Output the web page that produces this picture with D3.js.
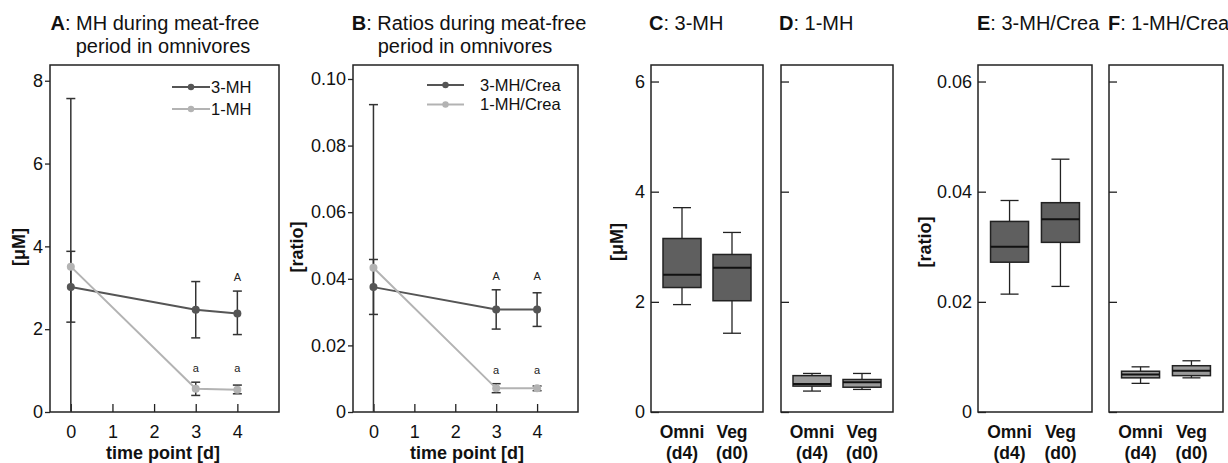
<!DOCTYPE html>
<html>
<head>
<meta charset="utf-8">
<script src="https://cdn.jsdelivr.net/npm/d3@7"></script>
<style>
  body { margin: 0; background: #fff; }
  svg { display: block; font-family: "Liberation Sans", Arial, sans-serif; }
</style>
</head>
<body>
<div id="chart"></div>
<script>
// time course (panels A, B)
const timePoints = [0, 3, 4]
const mh3Mean = [3.02, 2.47, 2.38]
const mh3Lo = [2.17, 1.79, 1.87]
const mh3Hi = [3.88, 3.15, 2.92]
const mh1Mean = [3.51, 0.56, 0.54]
const mh1Lo = [-0.55, 0.40, 0.44]
const mh1Hi = [7.57, 0.72, 0.65]
const mh3CreaMean = [0.0375, 0.0308, 0.0308]
const mh3CreaLo = [0.0293, 0.0249, 0.0257]
const mh3CreaHi = [0.0458, 0.0367, 0.0358]
const mh1CreaMean = [0.0433, 0.0071, 0.0071]
const mh1CreaLo = [-0.0057, 0.0058, 0.0064]
const mh1CreaHi = [0.0923, 0.0085, 0.0078]
const lettersA3 = ['', '', 'A']
const lettersA1 = ['', 'a', 'a']
const lettersB3 = ['', 'A', 'A']
const lettersB1 = ['', 'a', 'a']

// box plots (panels C-F): [low whisker, Q1, median, Q3, high whisker]
const groups = ['Omni|(d4)', 'Veg|(d0)']
const c3mhOmni = [1.95, 2.26, 2.49, 3.15, 3.71]
const c3mhVeg = [1.43, 2.02, 2.62, 2.86, 3.26]
const d1mhOmni = [0.38, 0.47, 0.51, 0.66, 0.70]
const d1mhVeg = [0.41, 0.45, 0.54, 0.59, 0.70]
const e3mhCreaOmni = [0.0214, 0.0272, 0.0300, 0.0346, 0.0384]
const e3mhCreaVeg = [0.0228, 0.0308, 0.0350, 0.0380, 0.0459]
const f1mhCreaOmni = [0.0052, 0.0062, 0.0068, 0.0074, 0.0082]
const f1mhCreaVeg = [0.0062, 0.0066, 0.0075, 0.0084, 0.0093]

const ticksMH = [0, 2, 4, 6, 8]
const ticksRatio = [0, 0.02, 0.04, 0.06, 0.08, 0.10]
const ticksBoxMH = [0, 2, 4, 6]
const ticksBoxRatio = [0, 0.02, 0.04, 0.06]
const xTicks = [0, 1, 2, 3, 4]

const width = 1228, height = 463
const plotTop = 65, plotBottom = 412
const dark = '#555', light = '#b3b3b3', ink = '#222'

const svg = d3.select('#chart').append('svg')
    .attr('width', width)
    .attr('height', height)

const fmtRatio = d => d === 0 ? '0' : d3.format('.2f')(d)

const title = (lines) => {
    lines.forEach(l => {
        const t = svg.append('text')
            .attr('x', l.x)
            .attr('y', l.y)
            .attr('text-anchor', l.anchor || 'middle')
            .attr('font-size', 20)
            .attr('fill', '#111')
        if (l.bold) t.append('tspan').attr('font-weight', 'bold').text(l.bold)
        t.append('tspan').text(l.text)
    })
}

const yTitle = (x, y, txt) => {
    svg.append('text')
        .attr('transform', `translate(${x},${y}) rotate(-90)`)
        .attr('text-anchor', 'middle')
        .attr('dy', '0.35em')
        .attr('font-size', 18)
        .attr('font-weight', 'bold')
        .attr('fill', '#111')
        .text(txt)
}

const frame = (x0, x1) => {
    svg.append('rect')
        .attr('x', x0).attr('y', plotTop)
        .attr('width', x1 - x0).attr('height', plotBottom - plotTop)
        .attr('fill', 'none')
        .attr('stroke', ink)
        .attr('stroke-width', 1.5)
}

const styleAxis = (g, size) => {
    g.select('.domain').remove()
    g.selectAll('line').attr('stroke', ink).attr('stroke-width', 1.3)
    g.selectAll('text').attr('font-size', size).attr('fill', '#111')
        .attr('font-family', '"Liberation Sans", Arial, sans-serif')
}

// ---------- line panels ----------
const linePanel = (x0, x1, yMax, yTicks, yFmt, series, legend) => {
    const x = d3.scaleLinear().domain([-0.5, 5]).range([x0, x1])
    const y = d3.scaleLinear().domain([0, yMax]).range([plotBottom, plotTop])

    svg.append('g')
        .attr('transform', `translate(${x0},0)`)
        .call(d3.axisLeft(y).tickValues(yTicks).tickFormat(yFmt).tickSize(5).tickPadding(2))
        .call(g => styleAxis(g, 18))

    svg.append('g')
        .attr('transform', `translate(0,${plotBottom})`)
        .call(d3.axisBottom(x).tickValues(xTicks).tickFormat(d3.format('d')).tickSize(-8).tickPadding(13))
        .call(g => styleAxis(g, 18))

    frame(x0, x1)

    // error bars
    series.forEach(s => {
        const eb = svg.append('g')
        timePoints.forEach((t, i) => {
            const cx = x(t)
            const lo = Math.max(s.lo[i], 0)
            eb.append('line')
                .attr('x1', cx).attr('x2', cx)
                .attr('y1', y(lo)).attr('y2', y(s.hi[i]))
                .attr('stroke', '#333').attr('stroke-width', 1.5)
            const caps = [s.hi[i]]
            if (s.lo[i] >= 0) caps.push(s.lo[i])
            caps.forEach(v => {
                eb.append('line')
                    .attr('x1', cx - 4.5).attr('x2', cx + 4.5)
                    .attr('y1', y(v)).attr('y2', y(v))
                    .attr('stroke', '#333').attr('stroke-width', 1.5)
            })
        })
    })

    // lines and markers
    series.forEach(s => {
        const pts = timePoints.map((t, i) => [x(t), y(s.mean[i])])
        svg.append('path')
            .attr('d', d3.line()(pts))
            .attr('fill', 'none')
            .attr('stroke', s.color)
            .attr('stroke-width', 2)
        svg.selectAll(null).data(pts).enter().append('circle')
            .attr('cx', d => d[0]).attr('cy', d => d[1])
            .attr('r', 4)
            .attr('fill', s.color)
    })

    // significance letters
    series.forEach(s => {
        const idx = timePoints.map((t, i) => i).filter(i => s.letters[i])
        if (!idx.length) return
        const rowY = d3.min(idx, i => y(s.hi[i])) - 14
        idx.forEach(i => {
            svg.append('text')
                .attr('x', x(timePoints[i]))
                .attr('y', rowY)
                .attr('dy', '0.35em')
                .attr('text-anchor', 'middle')
                .attr('font-size', 11)
                .attr('fill', '#222')
                .text(s.letters[i])
        })
    })

    // legend
    series.forEach((s, i) => {
        const ly = legend.y + i * legend.dy
        svg.append('line')
            .attr('x1', legend.x0).attr('x2', legend.x1)
            .attr('y1', ly).attr('y2', ly)
            .attr('stroke', s.color).attr('stroke-width', 2)
        svg.append('circle')
            .attr('cx', (legend.x0 + legend.x1) / 2).attr('cy', ly)
            .attr('r', 3.2).attr('fill', s.color)
        svg.append('text')
            .attr('x', legend.tx).attr('y', ly)
            .attr('dy', '0.35em')
            .attr('font-size', 16.5)
            .attr('fill', '#111')
            .text(s.name)
    })
}

linePanel(50, 279, 8.38, ticksMH, d3.format('d'), [
    { name: '3-MH', mean: mh3Mean, lo: mh3Lo, hi: mh3Hi, color: dark, letters: lettersA3 },
    { name: '1-MH', mean: mh1Mean, lo: mh1Lo, hi: mh1Hi, color: light, letters: lettersA1 }
], { x0: 172, x1: 210, tx: 211, y: 87, dy: 22 })

linePanel(353, 578, 0.1042, ticksRatio, fmtRatio, [
    { name: '3-MH/Crea', mean: mh3CreaMean, lo: mh3CreaLo, hi: mh3CreaHi, color: dark, letters: lettersB3 },
    { name: '1-MH/Crea', mean: mh1CreaMean, lo: mh1CreaLo, hi: mh1CreaHi, color: light, letters: lettersB1 }
], { x0: 427, x1: 464, tx: 480, y: 85, dy: 19.5 })

title([
    { x: 155, y: 30, bold: 'A', text: ': MH during meat-free' },
    { x: 163, y: 53, text: 'period in omnivores' },
    { x: 469, y: 30, bold: 'B', text: ': Ratios during meat-free' },
    { x: 465, y: 53, text: 'period in omnivores' }
])
yTitle(19, 247, '[μM]')
yTitle(297, 247, '[ratio]')

;[163, 467].forEach(cx => {
    svg.append('text')
        .attr('x', cx).attr('y', 459)
        .attr('text-anchor', 'middle')
        .attr('font-size', 18)
        .attr('font-weight', 'bold')
        .attr('fill', '#111')
        .text('time point [d]')
})

// ---------- box panels ----------
const boxPanel = (x0, x1, yMax, yTicks, yFmt, showTickLabels, boxes, fill) => {
    const x = d3.scalePoint().domain(groups).range([x0, x1]).padding(0.62)
    const y = d3.scaleLinear().domain([0, yMax]).range([plotBottom, plotTop])

    svg.append('g')
        .attr('transform', `translate(${x0},0)`)
        .call(d3.axisLeft(y).tickValues(yTicks)
            .tickFormat(showTickLabels ? yFmt : () => '')
            .tickSize(-8).tickPadding(6))
        .call(g => styleAxis(g, 18))

    frame(x0, x1)

    const bw = 38, cw = 18
    boxes.forEach((b, i) => {
        const cx = x(groups[i])
        const g = svg.append('g')
        g.append('line')
            .attr('x1', cx).attr('x2', cx)
            .attr('y1', y(b[0])).attr('y2', y(b[4]))
            .attr('stroke', ink).attr('stroke-width', 1.3)
        ;[b[0], b[4]].forEach(v => {
            g.append('line')
                .attr('x1', cx - cw / 2).attr('x2', cx + cw / 2)
                .attr('y1', y(v)).attr('y2', y(v))
                .attr('stroke', ink).attr('stroke-width', 1.3)
        })
        g.append('rect')
            .attr('x', cx - bw / 2).attr('y', y(b[3]))
            .attr('width', bw).attr('height', y(b[1]) - y(b[3]))
            .attr('fill', fill)
            .attr('stroke', ink).attr('stroke-width', 1.5)
        g.append('line')
            .attr('x1', cx - bw / 2).attr('x2', cx + bw / 2)
            .attr('y1', y(b[2])).attr('y2', y(b[2]))
            .attr('stroke', '#111').attr('stroke-width', 2)
    })

    groups.forEach(gname => {
        const lines = gname.split('|')
        const t = svg.append('text')
            .attr('text-anchor', 'middle')
            .attr('font-size', 17.5)
            .attr('font-weight', 'bold')
            .attr('fill', '#111')
        lines.forEach((l, j) => {
            t.append('tspan')
                .attr('x', x(gname))
                .attr('y', 438 + j * 21)
                .text(l)
        })
    })
}

boxPanel(651, 763, 6.3, ticksBoxMH, d3.format('d'), true, [c3mhOmni, c3mhVeg], '#5f5f5f')
boxPanel(781, 893, 6.3, ticksBoxMH, d3.format('d'), false, [d1mhOmni, d1mhVeg], '#9a9a9a')
boxPanel(978, 1092, 0.063, ticksBoxRatio, fmtRatio, true, [e3mhCreaOmni, e3mhCreaVeg], '#5f5f5f')
boxPanel(1109, 1223, 0.063, ticksBoxRatio, fmtRatio, false, [f1mhCreaOmni, f1mhCreaVeg], '#9a9a9a')

title([
    { x: 649, y: 30, anchor: 'start', bold: 'C', text: ': 3-MH' },
    { x: 779, y: 30, anchor: 'start', bold: 'D', text: ': 1-MH' },
    { x: 977, y: 30, anchor: 'start', bold: 'E', text: ': 3-MH/Crea' },
    { x: 1108, y: 30, anchor: 'start', bold: 'F', text: ': 1-MH/Crea' }
])
yTitle(617, 242, '[μM]')
yTitle(925, 242, '[ratio]')
</script>
</body>
</html>
